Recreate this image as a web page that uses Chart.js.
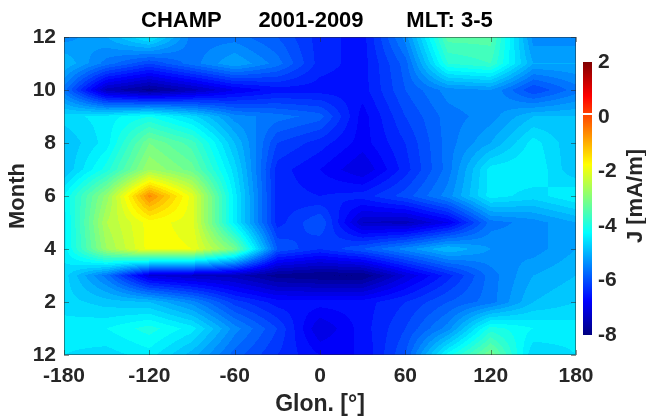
<!DOCTYPE html>
<html>
<head>
<meta charset="utf-8">
<script src="https://cdn.jsdelivr.net/npm/chart.js@4"></script>
<style>
  body { margin: 0; background: #fff; }
  canvas { display: block; }
</style>
</head>
<body>
<canvas id="c" width="646" height="419"></canvas>
<script>
// grid nodes: longitude every 30 deg, month 0 (=Dec) .. 12
const lons = [-180, -150, -120, -90, -60, -30, 0, 30, 60, 90, 120, 150, 180];
const months = [0, 1, 2, 3, 4, 5, 6, 7, 8, 9, 10, 11, 12];

// J [mA/m], one row per month, columns follow lons
const jByMonth = [
  [-4.4, -4.5, -4.3, -4.9, -5.7, -6.2, -6.6, -6.6, -5.8, -4.1, -3.0, -4.6, -4.4],
  [-4.3, -4.2, -3.9, -4.3, -5.3, -6.0, -7.0, -6.5, -6.0, -5.3, -3.9, -4.2, -4.3],
  [-4.5, -4.7, -4.8, -5.3, -6.1, -6.5, -6.5, -6.5, -6.2, -5.8, -5.5, -4.8, -4.6],
  [-4.5, -5.5, -7.0, -7.2, -7.3, -7.7, -7.8, -7.8, -7.0, -6.3, -5.5, -5.0, -4.8],
  [-4.3, -2.6, -1.7, -1.8, -3.0, -5.8, -6.2, -5.8, -5.3, -4.8, -5.2, -5.3, -5.0],
  [-4.3, -2.4, -1.7, -1.9, -4.3, -6.3, -5.8, -7.2, -7.3, -6.8, -5.5, -5.3, -5.0],
  [-4.2, -2.7, -0.5, -1.9, -4.3, -6.3, -6.4, -6.3, -5.9, -5.3, -4.3, -4.5, -4.2],
  [-4.8, -3.9, -2.6, -3.1, -4.5, -6.3, -6.6, -7.0, -6.3, -5.5, -4.3, -4.2, -4.8],
  [-4.8, -4.3, -3.0, -3.5, -4.8, -6.0, -6.3, -6.7, -6.2, -5.5, -5.0, -4.3, -4.8],
  [-4.5, -4.3, -4.0, -4.5, -5.3, -5.5, -5.7, -6.7, -6.0, -5.5, -5.3, -4.8, -4.8],
  [-5.5, -7.3, -7.7, -7.3, -6.8, -6.5, -6.5, -6.5, -5.8, -5.3, -5.2, -6.0, -5.5],
  [-4.8, -5.5, -6.0, -5.5, -5.0, -5.5, -6.3, -6.5, -5.7, -3.8, -3.6, -5.0, -5.0],
  [-5.3, -5.0, -4.3, -5.5, -5.5, -5.8, -6.3, -6.5, -5.3, -3.3, -3.3, -5.3, -5.3]
];

const lonTicks = [-180, -120, -60, 0, 60, 120, 180];
const monthTicks = [0, 2, 4, 6, 8, 10, 12];
const monthLabels = ['12', '2', '4', '6', '8', '10', '12'];
const cbarTicks = [-8, -6, -4, -2, 0, 2];
const cmin = -8, cmax = 2, levelStep = 0.2;

const FONT = "'Liberation Sans', Arial, sans-serif";
const INK = '#262626';

function jet(t) {
  t = Math.max(0, Math.min(1, t));
  const c = v => Math.round(255 * Math.max(0, Math.min(1, v)));
  return [c(1.5 - Math.abs(4 * t - 3)), c(1.5 - Math.abs(4 * t - 2)), c(1.5 - Math.abs(4 * t - 1))];
}

function idx(arr, v) {
  let i = 0;
  while (i < arr.length - 2 && v > arr[i + 1]) i++;
  const f = Math.max(0, Math.min(1, (v - arr[i]) / (arr[i + 1] - arr[i])));
  return [i, f];
}

function sample(lon, m) {
  const [i, fx] = idx(lons, lon);
  const [j, fy] = idx(months, m);
  const a = jByMonth[j][i], b = jByMonth[j][i + 1];
  const c = jByMonth[j + 1][i], d = jByMonth[j + 1][i + 1];
  return (a * (1 - fx) + b * fx) * (1 - fy) + (c * (1 - fx) + d * fx) * fy;
}

const contourPlugin = {
  id: 'contour',
  beforeDatasetsDraw(chart) {
    const { ctx, chartArea: a, scales: { x, y } } = chart;
    const left = Math.round(a.left), top = Math.round(a.top);
    const w = Math.round(a.right) - left, h = Math.round(a.bottom) - top;
    const img = ctx.createImageData(w, h);
    for (let py = 0; py < h; py++) {
      const m = y.getValueForPixel(top + py + 0.5);
      for (let px = 0; px < w; px++) {
        const v = sample(x.getValueForPixel(left + px + 0.5), m);
        const q = Math.floor((v - cmin) / levelStep) * levelStep + cmin;
        const col = jet((q - cmin) / (cmax - cmin));
        const k = (py * w + px) * 4;
        img.data[k] = col[0]; img.data[k + 1] = col[1]; img.data[k + 2] = col[2]; img.data[k + 3] = 255;
      }
    }
    ctx.putImageData(img, left, top);
  },
  afterDraw(chart) {
    const { ctx, chartArea: a, scales: { x, y, cb } } = chart;
    ctx.save();
    // box and inward ticks
    ctx.strokeStyle = 'rgba(38,38,38,0.5)';
    ctx.lineWidth = 1;
    ctx.strokeRect(a.left + 0.5, a.top + 0.5, a.right - a.left - 1, a.bottom - a.top - 1);
    ctx.beginPath();
    lonTicks.forEach(v => {
      const px = Math.round(x.getPixelForValue(v)) + 0.5;
      ctx.moveTo(px, a.bottom); ctx.lineTo(px, a.bottom - 5);
      ctx.moveTo(px, a.top); ctx.lineTo(px, a.top + 5);
    });
    monthTicks.forEach(v => {
      const py = Math.round(y.getPixelForValue(v)) + 0.5;
      ctx.moveTo(a.left, py); ctx.lineTo(a.left + 5, py);
      ctx.moveTo(a.right, py); ctx.lineTo(a.right - 5, py);
    });
    ctx.stroke();

    // colour bar
    const bx = 583, bw = 9;
    const pTop = Math.round(cb.getPixelForValue(cmax));
    const pBot = Math.round(cb.getPixelForValue(cmin));
    for (let py = pTop; py < pBot; py++) {
      const v = cb.getValueForPixel(py + 0.5);
      const col = jet((v - cmin) / (cmax - cmin));
      ctx.fillStyle = `rgb(${col[0]},${col[1]},${col[2]})`;
      ctx.fillRect(bx, py, bw, 1);
    }
    ctx.fillStyle = '#fff';
    ctx.fillRect(bx, Math.round(cb.getPixelForValue(0.1)) - 1, bw, 2);

    // colour bar title
    ctx.translate(636, 196);
    ctx.rotate(-Math.PI / 2);
    ctx.fillStyle = INK;
    ctx.font = `bold 22px ${FONT}`;
    ctx.textAlign = 'center';
    ctx.textBaseline = 'middle';
    ctx.fillText('J [mA/m]', 0, 0);
    ctx.restore();
  }
};

new Chart(document.getElementById('c'), {
  type: 'scatter',
  data: {
    datasets: [{
      data: months.flatMap(m => lons.map(l => ({ x: l, y: m }))),
      pointRadius: 0,
      showLine: false
    }]
  },
  options: {
    responsive: false,
    animation: false,
    devicePixelRatio: 1,
    layout: { padding: 0 },
    plugins: {
      legend: { display: false },
      tooltip: { enabled: false },
      title: {
        display: true,
        text: 'CHAMP      2001-2009       MLT: 3-5  ',
        color: '#000',
        font: { family: FONT, size: 22, weight: 'bold' },
        padding: { top: 8, bottom: 2.6 }
      }
    },
    scales: {
      x: {
        type: 'linear', min: -180, max: 180,
        afterBuildTicks: s => { s.ticks = lonTicks.map(v => ({ value: v })); },
        ticks: { color: INK, font: { family: FONT, size: 21, weight: 'bold' }, padding: 9, maxRotation: 0 },
        grid: { display: false, drawTicks: false },
        border: { display: false },
        title: { display: true, text: 'Glon. [°]', color: INK, font: { family: FONT, size: 23, weight: 'bold' }, padding: { bottom: 1 } },
        afterFit: s => { s.height = 64; }
      },
      y: {
        type: 'linear', min: 0, max: 12,
        afterBuildTicks: s => { s.ticks = monthTicks.map(v => ({ value: v })); },
        ticks: { color: INK, font: { family: FONT, size: 21, weight: 'bold' }, padding: 8,
                 callback: (v) => monthLabels[monthTicks.indexOf(v)] },
        grid: { display: false, drawTicks: false },
        border: { display: false },
        title: { display: true, text: 'Month', color: INK, font: { family: FONT, size: 22, weight: 'bold' }, padding: { top: 5 } },
        afterFit: s => { s.width = 64; }
      },
      cb: {
        type: 'linear', position: 'right', min: -8.73, max: 2.92,
        afterBuildTicks: s => { s.ticks = cbarTicks.map(v => ({ value: v })); },
        ticks: { color: INK, font: { family: FONT, size: 21, weight: 'bold' }, padding: 22 },
        grid: { display: false, drawTicks: false },
        border: { display: false },
        afterFit: s => { s.width = 70; }
      }
    }
  },
  plugins: [contourPlugin]
});
</script>
</body>
</html>
